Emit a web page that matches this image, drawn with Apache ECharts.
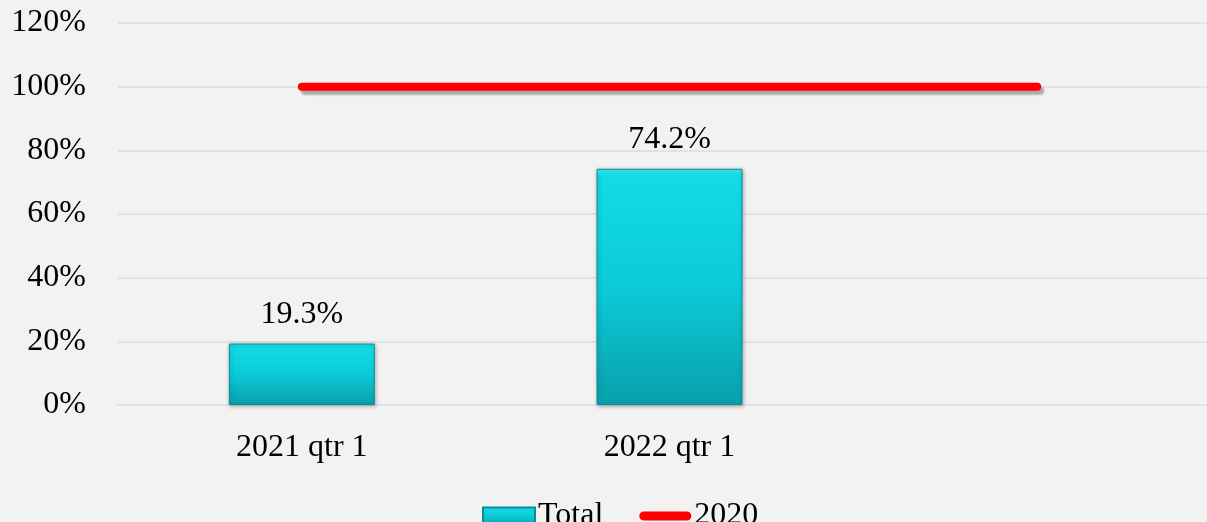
<!DOCTYPE html>
<html>
<head>
<meta charset="utf-8">
<script src="https://cdn.jsdelivr.net/npm/echarts@6/dist/echarts.min.js"></script>
<style>
  html, body { margin: 0; padding: 0; background: #f2f2f2; }
  #chart { width: 1207px; height: 522px; }
</style>
</head>
<body>
<div id="chart"></div>
<script>
const categories = ['2021 qtr 1', '2022 qtr 1', '']
const totalValues = [19.3, 74.2, null]
const line2020 = [100, 100, 100]
const yTicks = [0, 20, 40, 60, 80, 100, 120]

const font = '"Liberation Serif", "Times New Roman", serif'

// thick rounded line for the legend, padded to the full icon box
const lineIcon = 'path://M0,0L0.1,0L0,0.1Z M0,17L0.1,17L0,16.9Z ' +
  'M4.5,4 L47.5,4 A4.5,4.5 0 0 1 47.5,13 L4.5,13 A4.5,4.5 0 0 1 4.5,4 Z'

let chart = echarts.init(document.getElementById('chart'))

let option = {
  backgroundColor: '#f2f2f2',
  textStyle: { fontFamily: font },
  grid: {
    left: 118,
    top: 23,
    width: 1103,
    bottom: 117,
    outerBoundsMode: 'none',
    containLabel: false
  },
  legend: {
    left: 477,
    top: 495,
    itemGap: 36,
    itemWidth: 52,
    itemHeight: 17,
    textStyle: { fontFamily: font, fontSize: 32, color: '#000', padding: [0, 0, 0, -2] },
    data: [
      { name: 'Total', icon: 'rect' },
      { name: '2020', icon: lineIcon }
    ]
  },
  xAxis: {
    type: 'category',
    data: categories,
    axisLine: { show: true, lineStyle: { color: '#e2e2e2', width: 2 } },
    axisTick: { show: false },
    axisLabel: { fontFamily: font, fontSize: 32, color: '#000', margin: 27 }
  },
  yAxis: {
    type: 'value',
    min: yTicks[0],
    max: yTicks[yTicks.length - 1],
    interval: 20,
    axisLine: { show: false },
    axisTick: { show: false },
    splitLine: { lineStyle: { color: '#e2e2e2', width: 2 } },
    axisLabel: {
      fontFamily: font, fontSize: 32, color: '#000', margin: 32,
      formatter: '{value}%'
    }
  },
  series: [
    {
      name: 'Total',
      type: 'bar',
      data: totalValues,
      barWidth: 146,
      itemStyle: {
        color: new echarts.graphic.LinearGradient(0, 0, 0, 1, [
          { offset: 0, color: '#3ff0f6' },
          { offset: 0.03, color: '#12dbe6' },
          { offset: 0.5, color: '#0bcbd8' },
          { offset: 1, color: '#0a9fab' }
        ]),
        borderColor: '#0a8d97',
        borderWidth: 1,
        shadowColor: 'rgba(0,0,0,0.3)',
        shadowBlur: 4,
        shadowOffsetX: 1,
        shadowOffsetY: 1
      },
      label: {
        show: true,
        position: 'top',
        distance: 13,
        fontFamily: font,
        fontSize: 32,
        color: '#000',
        formatter: '{c}%'
      }
    },
    {
      name: '2020',
      type: 'line',
      data: line2020,
      symbol: 'none',
      showSymbol: false,
      lineStyle: {
        color: '#ff0000',
        width: 8,
        cap: 'round',
        shadowColor: 'rgba(0,0,0,0.3)',
        shadowBlur: 2,
        shadowOffsetX: 3,
        shadowOffsetY: 4
      },
      itemStyle: { color: '#ff0000' }
    }
  ]
}

chart.setOption(option)
</script>
</body>
</html>
